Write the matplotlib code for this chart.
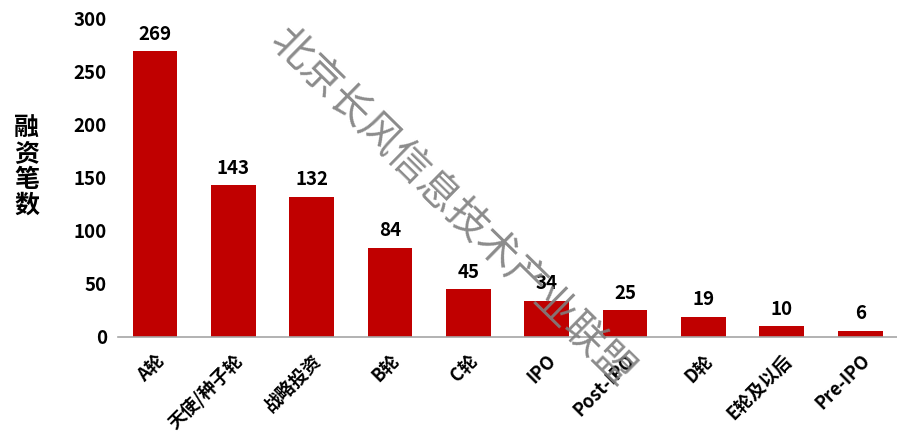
import matplotlib.pyplot as plt

plt.rcParams['font.family'] = ['Noto Sans CJK SC', 'DejaVu Sans']

# 融资轮次与笔数
rounds = ["A轮", "天使/种子轮", "战略投资", "B轮", "C轮", "IPO", "Post-IPO", "D轮", "E轮及以后", "Pre-IPO"]
counts = [269, 143, 132, 84, 45, 34, 25, 19, 10, 6]
yticks = [0, 50, 100, 150, 200, 250, 300]

fig = plt.figure(figsize=(8.97, 4.46), dpi=100)
ax = fig.add_axes([0.1316, 0.2444, 0.8684, 0.7152])

x = list(range(len(rounds)))
ax.bar(x, counts, width=0.57, color="#C00000")

for xi, v in zip(x, counts):
    ax.text(xi, v + 7, str(v), ha="center", va="bottom", fontsize=13.5, fontweight="bold")

ax.set_xlim(-0.47, 9.47)
ax.set_ylim(0, 300)
ax.set_yticks(yticks)
ax.set_yticklabels([str(t) for t in yticks], fontsize=13.5, fontweight="bold")
ax.set_xticks(x)
ax.set_xticklabels(rounds, rotation=45, ha="right", rotation_mode="anchor",
                   fontsize=13, fontweight="bold")
ax.tick_params(axis="y", length=0, pad=8)
ax.tick_params(axis="x", length=0, pad=10)

for s in ["top", "right", "left"]:
    ax.spines[s].set_visible(False)
ax.spines["bottom"].set_color("#A6A6A6")
ax.spines["bottom"].set_linewidth(1.2)

# 纵轴标题，竖排
fig.text(0.03, 0.625, "融\n资\n笔\n数", ha="center", va="center",
         fontsize=18, fontweight="bold", linespacing=1.1)

# 水印
fig.text(0.503, 0.535, "北京长风信息技术产业联盟", ha="center", va="center",
         rotation=-44.5, fontsize=29.5, color="#7F7F7F", alpha=0.9)

plt.savefig("out.png", dpi=100)
